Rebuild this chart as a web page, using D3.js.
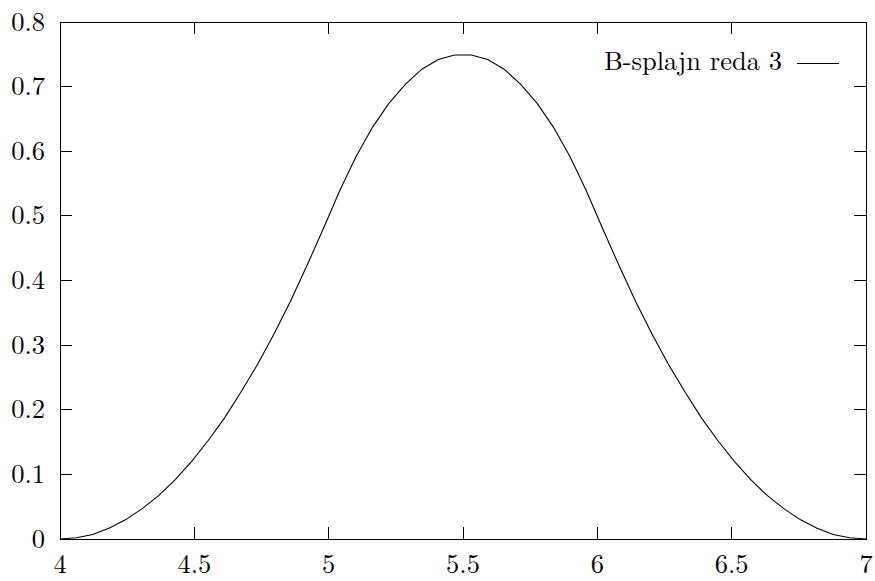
<!DOCTYPE html>
<html><head><meta charset="utf-8">
<script src="https://cdn.jsdelivr.net/npm/d3@7"></script>
<style>body{margin:0;background:#fff}svg{display:block}</style>
</head><body><svg id="c" width="875" height="581"></svg>
<script>
const xTicks = [4, 4.5, 5, 5.5, 6, 6.5, 7];
const xTickLabels = ["4", "4.5", "5", "5.5", "6", "6.5", "7"];
const yTicks = [0, 0.1, 0.2, 0.3, 0.4, 0.5, 0.6, 0.7, 0.8];
const yTickLabels = ["0", "0.1", "0.2", "0.3", "0.4", "0.5", "0.6", "0.7", "0.8"];
const seriesName = "B-splajn reda 3";
const xs = [4.000, 4.061, 4.122, 4.184, 4.245, 4.306, 4.367, 4.429, 4.490, 4.551,
            4.612, 4.673, 4.735, 4.796, 4.857, 4.918, 4.980, 5.041, 5.102, 5.163,
            5.224, 5.286, 5.347, 5.408, 5.469, 5.531, 5.592, 5.653, 5.714, 5.776,
            5.837, 5.898, 5.959, 6.020, 6.082, 6.143, 6.204, 6.265, 6.327, 6.388,
            6.449, 6.510, 6.571, 6.633, 6.694, 6.755, 6.816, 6.878, 6.939, 7.000];
const ys = [0.000, 0.002, 0.007, 0.017, 0.030, 0.047, 0.067, 0.092, 0.120, 0.152,
            0.187, 0.227, 0.270, 0.317, 0.367, 0.422, 0.480, 0.539, 0.592, 0.637,
            0.674, 0.704, 0.727, 0.742, 0.749, 0.749, 0.742, 0.727, 0.704, 0.674,
            0.637, 0.592, 0.539, 0.480, 0.422, 0.367, 0.317, 0.270, 0.227, 0.187,
            0.152, 0.120, 0.092, 0.067, 0.047, 0.030, 0.017, 0.007, 0.002, 0.000];

const L = 60, R = 866, T = 22, B = 539, tick = 12, fs = 26.5;
const FONT = "Latin Modern Roman";
const svg = d3.select("#c");
const x = d3.scaleLinear().domain([4, 7]).range([L, R]);
const y = d3.scaleLinear().domain([0, 0.8]).range([B, T]);

// ticks
const g = svg.append("g").attr("stroke", "#000").attr("stroke-width", 1).attr("shape-rendering", "crispEdges");
xTicks.forEach(v => {
  g.append("line").attr("x1", x(v)).attr("x2", x(v)).attr("y1", B).attr("y2", B - tick);
  g.append("line").attr("x1", x(v)).attr("x2", x(v)).attr("y1", T).attr("y2", T + tick);
});
yTicks.forEach(v => {
  g.append("line").attr("x1", L).attr("x2", L + tick).attr("y1", y(v)).attr("y2", y(v));
  g.append("line").attr("x1", R).attr("x2", R - tick).attr("y1", y(v)).attr("y2", y(v));
});
// frame
g.append("rect").attr("x", L).attr("y", T).attr("width", R - L).attr("height", B - T).attr("fill", "none");

// labels
xTicks.forEach((v, i) => {
  svg.append("text").attr("x", x(v)).attr("y", 573).attr("text-anchor", "middle")
    .attr("font-family", FONT).attr("font-size", fs).text(xTickLabels[i]);
});
yTicks.forEach((v, i) => {
  svg.append("text").attr("x", 45).attr("y", y(v) + 8.5).attr("text-anchor", "end")
    .attr("font-family", FONT).attr("font-size", fs).text(yTickLabels[i]);
});

// curve
const line = d3.line().x((d, i) => x(xs[i])).y((d, i) => y(ys[i]));
svg.append("path").datum(xs).attr("d", line).attr("fill", "none").attr("stroke", "#000").attr("stroke-width", 1.1);

// legend
svg.append("text").attr("x", 782).attr("y", 69.5).attr("text-anchor", "end")
  .attr("font-family", FONT).attr("font-size", fs).text(seriesName);
svg.append("line").attr("x1", 797).attr("x2", 839).attr("y1", 63.5).attr("y2", 63.5)
  .attr("stroke", "#000").attr("stroke-width", 1);
</script></body></html>
